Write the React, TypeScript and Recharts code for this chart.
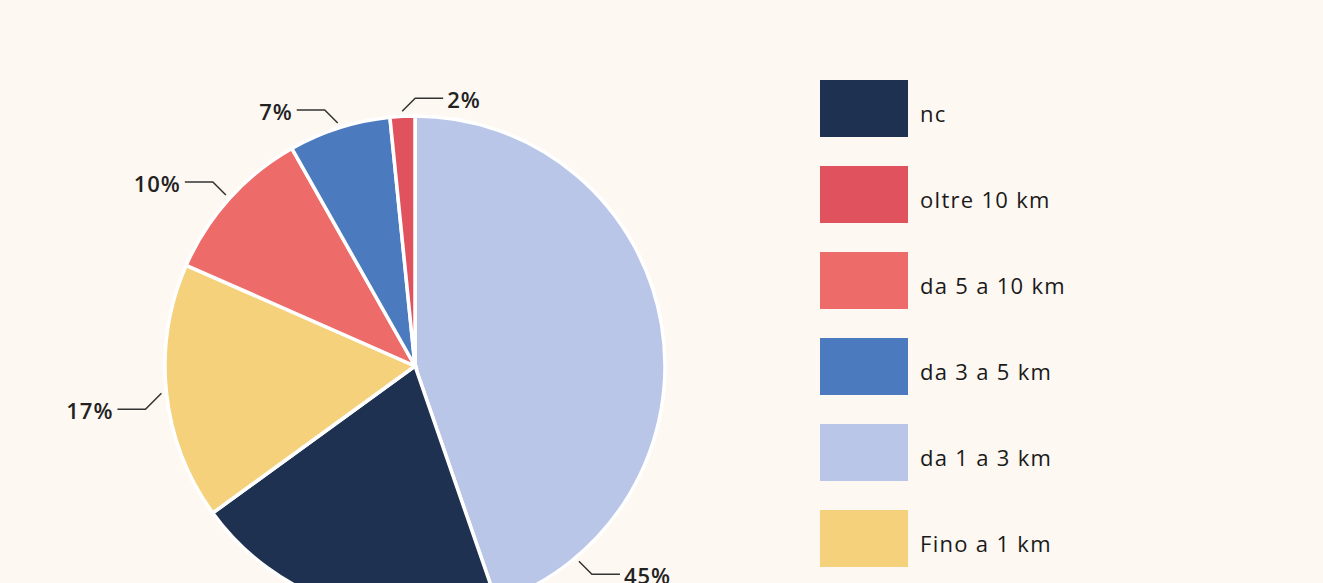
import { PieChart, Pie, Cell } from "recharts";

// slices, clockwise from 12 o'clock
const sliceLabels = ["da 1 a 3 km", "nc", "Fino a 1 km", "da 5 a 10 km", "da 3 a 5 km", "oltre 10 km"];
const sliceValues = [44.7, 20.3, 16.6, 10.2, 6.6, 1.6];

// legend order as in the original
const legendOrder = ["nc", "oltre 10 km", "da 5 a 10 km", "da 3 a 5 km", "da 1 a 3 km", "Fino a 1 km"];

// slices that carry a percentage label in the original
const labelled = ["da 1 a 3 km", "Fino a 1 km", "da 5 a 10 km", "da 3 a 5 km", "oltre 10 km"];

const COLORS: Record<string, string> = {
  nc: "#1f3151",
  "oltre 10 km": "#e0525d",
  "da 5 a 10 km": "#ed6b69",
  "da 3 a 5 km": "#4b7bbe",
  "da 1 a 3 km": "#b9c6e7",
  "Fino a 1 km": "#f6d17c",
};

const BG = "#fdf8f2";
const FONT = "'Open Sans', sans-serif";
const RADIAN = Math.PI / 180;

// the big slice has its label pushed down towards the bottom edge
const labelAngleOverride: Record<number, number> = { 0: -50 };

const data = sliceLabels.map((name, i) => ({ name, value: sliceValues[i] }));

const renderLabel = (props: any) => {
  const { cx, cy, midAngle, outerRadius, value, index, name } = props;
  if (!labelled.includes(name)) return null;
  const angle = labelAngleOverride[index] ?? midAngle;
  const cos = Math.cos(-angle * RADIAN);
  const sin = Math.sin(-angle * RADIAN);
  const r = outerRadius + 5;
  const x0 = cx + r * cos;
  const y0 = cy + r * sin;
  const hx = cos >= -0.15 ? 1 : -1;
  const vy = sin >= 0 ? 1 : -1;
  const d = Math.abs(cos) > 0.9 ? 16 : 13;
  const x1 = x0 + hx * d;
  const y1 = y0 + vy * d;
  const x2 = x1 + hx * 28;
  return (
    <g>
      <polyline
        points={`${x0},${y0} ${x1},${y1} ${x2},${y1}`}
        fill="none"
        stroke="#333"
        strokeWidth={1.5}
      />
      <text
        x={x2 + hx * 4}
        y={y1 + 1}
        textAnchor={hx > 0 ? "start" : "end"}
        dominantBaseline="central"
        fontFamily={FONT}
        fontSize={22}
        fontWeight={600}
        letterSpacing={1}
        fill="#222"
      >
        {`${Math.round(value)}%`}
      </text>
    </g>
  );
};

export default function App() {
  return (
    <div
      style={{
        position: "fixed",
        left: 0,
        top: 0,
        width: 1323,
        height: 583,
        background: BG,
        overflow: "hidden",
      }}
    >
      <PieChart width={1323} height={583} margin={{ top: 0, right: 0, bottom: 0, left: 0 }}>
        <Pie
          data={data}
          dataKey="value"
          cx={415}
          cy={366}
          outerRadius={250}
          startAngle={90}
          endAngle={-270}
          stroke="#ffffff"
          strokeWidth={3.5}
          label={renderLabel}
          labelLine={false}
          isAnimationActive={false}
        >
          {data.map((d, i) => (
            <Cell key={`cell-${i}`} fill={COLORS[d.name]} />
          ))}
        </Pie>
      </PieChart>
      <div style={{ position: "absolute", left: 820, top: 80 }}>
        {legendOrder.map((name) => (
          <div
            key={name}
            style={{ display: "flex", alignItems: "center", height: 57, marginBottom: 29 }}
          >
            <div style={{ width: 88, height: 57, background: COLORS[name] }} />
            <span
              style={{
                marginLeft: 12,
                paddingTop: 8,
                fontFamily: FONT,
                fontSize: 22,
                fontWeight: 500,
                letterSpacing: 1.3,
                color: "#1a1a1a",
              }}
            >
              {name}
            </span>
          </div>
        ))}
      </div>
    </div>
  );
}
